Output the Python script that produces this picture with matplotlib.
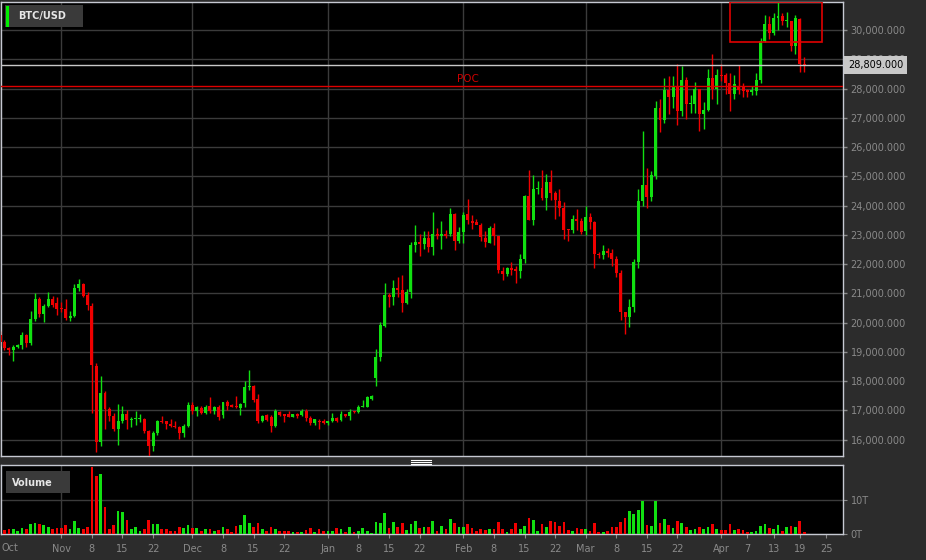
import pandas as pd
import matplotlib
matplotlib.use('Agg')
import matplotlib.pyplot as plt
import matplotlib.dates as mdates
from matplotlib.patches import Rectangle
from matplotlib.lines import Line2D
import matplotlib.transforms as mtransforms

# daily BTC/USD candles, 2022-10-18 .. 2023-04-20
dates = pd.date_range('2022-10-18', '2023-04-20', freq='D')

opens = [19580, 19350, 19120, 19060, 19180, 19230, 19560, 19320, 20110, 20795,
         20280, 20570, 20795, 20660, 20500, 20480, 20145, 20225, 21170, 21310,
         20930, 20580, 18520, 15910, 17590, 17040, 16820, 16360, 16640, 16880,
         16670, 16700, 16700, 16700, 16280, 15765, 16220, 16620, 16620, 16540,
         16470, 16430, 16220, 16450, 17170, 16966, 17080, 16910, 17140, 16966,
         17110, 16830, 17270, 17150, 17160, 17080, 17250, 17790, 17820, 17390,
         16620, 16850, 16790, 16450, 16930, 16840, 16870, 16790, 16870, 16830,
         16970, 16740, 16560, 16640, 16650, 16560, 16640, 16730, 16670, 16850,
         16800, 16960, 16955, 17125, 17125, 17400, 18100, 18840, 19900, 20945,
         20865, 21185, 21115, 20670, 21035, 22670, 22750, 22690, 22900, 22575,
         23030, 22975, 23030, 23030, 23715, 22800, 23100, 23725, 23475, 23440,
         23330, 22905, 22735, 23250, 22950, 21770, 21650, 21850, 21840, 21760,
         22170, 24320, 23520, 24570, 24610, 24270, 24820, 24440, 24160, 23920,
         23180, 23180, 23555, 23475, 23140, 23610, 23440, 22360, 22300, 22440,
         22380, 22170, 21680, 20370, 20175, 20540, 22075, 24150, 24710, 24290,
         25000, 27350, 26920, 27950, 27700, 28100, 27240, 28310, 27470, 27470,
         27970, 27120, 27260, 28350, 28000, 28470, 28460, 28180, 27810, 28100,
         28080, 27950, 27870, 27920, 28310, 29610, 30205, 29900, 30410, 30490,
         30300, 30320, 29470, 30380, 28840]
highs = [19700, 19400, 19180, 19250, 19260, 19690, 19620, 20410, 21000, 20890,
         20620, 21057, 20910, 20870, 20700, 20800, 20380, 21320, 21480, 21360,
         21030, 20660, 18620, 18180, 17650, 17130, 16900, 17220, 17150, 17020,
         16760, 16990, 16880, 16730, 16330, 16280, 16680, 16820, 16650, 16700,
         16620, 16470, 16520, 17270, 17300, 17160, 17150, 17200, 17450, 17160,
         17180, 17300, 17360, 17210, 17480, 17250, 17990, 18370, 17880, 17570,
         16840, 16880, 16830, 17060, 16965, 16870, 16980, 16890, 16900, 17030,
         17030, 16820, 16710, 16700, 16690, 16640, 16900, 16760, 16990, 16880,
         17040, 16980, 17180, 17370, 17490, 17510, 19100, 20010, 21360, 21010,
         21470, 21550, 21630, 21150, 22750, 23350, 23030, 23120, 23130, 23770,
         23220, 23460, 23150, 23920, 23750, 23260, 23780, 24240, 23690, 23550,
         23410, 23130, 23300, 23420, 22960, 21900, 21900, 22080, 21950, 22330,
         24375, 25230, 25030, 24840, 25200, 25090, 25230, 24500, 24580, 24130,
         23210, 23670, 23870, 23560, 23990, 23730, 23470, 22420, 22640, 22560,
         22530, 22280, 21810, 20370, 20790, 22190, 24580, 26540, 25290, 25180,
         27570, 27630, 28350, 28430, 28430, 28830, 28770, 28380, 27790, 28210,
         28000, 27525, 28670, 29170, 28660, 28830, 28520, 28520, 28460, 28790,
         28180, 28000, 28100, 28520, 29725, 30530, 30490, 30580, 30950, 30580,
         30610, 30320, 30530, 30410, 29090]
lows = [19200, 19080, 18890, 18690, 19130, 19090, 19150, 19250, 20060, 20180,
        20030, 20540, 20540, 20260, 20350, 20090, 20060, 20180, 21080, 20890,
        20430, 16925, 15560, 15790, 16360, 16620, 16280, 15820, 16560, 16360,
        16420, 16510, 16600, 16220, 15445, 15620, 16170, 16560, 16370, 16420,
        16400, 16020, 16100, 16420, 16860, 16800, 16880, 16890, 16900, 16890,
        16680, 16750, 17020, 17100, 17080, 16850, 17110, 17710, 17300, 16560,
        16600, 16650, 16270, 16430, 16810, 16590, 16760, 16770, 16730, 16800,
        16620, 16490, 16500, 16370, 16530, 16510, 16600, 16600, 16650, 16760,
        16680, 16910, 16910, 17100, 17110, 17340, 17850, 18700, 19850, 20520,
        20615, 20865, 20350, 20650, 20840, 22430, 22290, 22500, 22400, 22325,
        22850, 22520, 22880, 22970, 22480, 22720, 22720, 23385, 23210, 23360,
        22780, 22590, 22730, 22670, 21680, 21470, 21590, 21620, 21340, 21540,
        22050, 23500, 23350, 24410, 24200, 23860, 24180, 23555, 23630, 22870,
        22790, 23060, 23180, 23030, 22990, 23200, 21870, 22210, 22170, 22240,
        21940, 21560, 20085, 19610, 19860, 20350, 21880, 24000, 23920, 24170,
        24920, 26520, 26830, 27120, 27320, 26750, 27070, 26975, 27150, 27150,
        26540, 26630, 27240, 27660, 27490, 28250, 27830, 27230, 27660, 27830,
        27710, 27700, 27790, 27780, 28180, 29600, 29690, 29840, 29990, 30180,
        30100, 29270, 29190, 28580, 28560]
closes = [19350, 19120, 19060, 19180, 19230, 19580, 19320, 20110, 20795, 20280,
          20570, 20795, 20600, 20450, 20460, 20145, 20225, 21170, 21310, 20920,
          20600, 18550, 15910, 17590, 17040, 16820, 16360, 16640, 16880, 16670,
          16700, 16730, 16740, 16280, 15765, 16220, 16620, 16590, 16540, 16450,
          16430, 16220, 16450, 17190, 16966, 17100, 16910, 17110, 16970, 17110,
          16790, 17270, 17140, 17130, 17110, 17230, 17790, 17845, 17365, 16620,
          16820, 16680, 16450, 16965, 16830, 16820, 16790, 16880, 16800, 16970,
          16740, 16560, 16690, 16610, 16560, 16640, 16730, 16650, 16875, 16820,
          16955, 16940, 17125, 17160, 17445, 17480, 18840, 19930, 20945, 20865,
          21185, 21115, 20670, 21035, 22670, 22750, 22690, 22900, 22575, 23030,
          22975, 23030, 22950, 23715, 22800, 23090, 23690, 23500, 23410, 23330,
          22930, 22760, 23250, 22950, 21790, 21650, 21850, 21790, 21770, 22170,
          24320, 23520, 24570, 24610, 24270, 24820, 24440, 24180, 23920, 23180,
          23160, 23555, 23475, 23100, 23610, 23440, 22360, 22300, 22440, 22380,
          22170, 21680, 20370, 20175, 20540, 22075, 24150, 24710, 24290, 25050,
          27350, 26920, 27950, 27700, 28100, 27240, 28310, 27470, 27500, 27970,
          27120, 27260, 28350, 28000, 28460, 28440, 28180, 27810, 28140, 27960,
          27920, 27870, 27950, 28310, 29610, 30205, 29900, 30410, 30490, 30300,
          30330, 29470, 30410, 28840, 28809]
# volume in T
volume_t = [2.4, 1.25, 1.5, 1.35, 1.0, 1.7, 1.5, 2.9, 3.3, 3.0,
            2.5, 2.1, 1.4, 1.8, 1.8, 2.7, 1.4, 3.9, 1.8, 1.5,
            2.0, 19.4, 17.0, 17.5, 8.0, 1.4, 2.7, 6.8, 6.4, 4.2,
            1.5, 2.1, 0.8, 1.4, 4.1, 3.0, 3.0, 1.4, 1.4, 1.0,
            0.8, 1.9, 1.7, 2.5, 1.7, 1.7, 1.0, 1.6, 1.6, 1.0,
            1.25, 2.0, 1.6, 0.7, 2.3, 2.6, 5.5, 3.2, 2.0, 3.2,
            1.4, 1.0, 1.9, 1.4, 1.0, 1.0, 0.8, 0.6, 0.6, 0.6,
            1.25, 1.7, 0.7, 1.5, 1.0, 0.8, 1.0, 1.8, 1.35, 0.7,
            1.9, 0.6, 1.0, 1.8, 1.0, 0.3, 3.6, 3.2, 6.2, 1.7,
            3.4, 2.1, 3.2, 1.2, 3.0, 3.75, 1.7, 2.0, 2.0, 3.85,
            1.0, 2.2, 1.5, 4.3, 3.3, 2.0, 2.0, 3.0, 1.7, 0.9,
            1.6, 1.25, 1.35, 1.5, 3.5, 1.6, 0.6, 1.4, 3.2, 1.5,
            2.3, 4.6, 4.1, 0.9, 2.9, 2.1, 3.75, 3.5, 2.3, 3.6,
            1.25, 1.0, 1.7, 1.5, 1.4, 0.9, 3.2, 0.7, 0.7, 1.0,
            2.0, 2.0, 3.6, 4.6, 6.7, 5.8, 7.1, 9.5, 2.7, 2.3,
            9.5, 3.2, 4.4, 2.6, 1.8, 3.75, 3.2, 2.0, 1.2, 1.4,
            2.0, 1.6, 2.1, 2.9, 1.5, 1.2, 1.25, 2.8, 1.25, 1.5,
            1.2, 0.6, 0.5, 1.0, 2.3, 2.9, 1.8, 1.4, 2.7, 1.0,
            2.0, 2.2, 2.0, 3.85, 0.6]

last_price = 28809
poc_price = 28100
box_dates = ['2023-04-03', '2023-04-24']
box_prices = [29590, 30950]

tick_dates = ['2022-11-01', '2022-11-08', '2022-11-15', '2022-11-22',
              '2022-12-01', '2022-12-08', '2022-12-15', '2022-12-22',
              '2023-01-01', '2023-01-08', '2023-01-15', '2023-01-22',
              '2023-02-01', '2023-02-08', '2023-02-15', '2023-02-22',
              '2023-03-01', '2023-03-08', '2023-03-15', '2023-03-22',
              '2023-04-01', '2023-04-07', '2023-04-13', '2023-04-19', '2023-04-25']
tick_labels = ['Nov', '8', '15', '22', 'Dec', '8', '15', '22', 'Jan', '8', '15', '22',
               'Feb', '8', '15', '22', 'Mar', '8', '15', '22', 'Apr', '7', '13', '19', '25']
month_starts = ['2022-11-01', '2022-12-01', '2023-01-01', '2023-02-01', '2023-03-01', '2023-04-01']

#==============
BG = '#2c2c2c'
GRID = '#3b3b3b'
BORDER = '#c6c9d2'
LABEL = '#8a8a8a'
UP = '#11e011'
DOWN = '#f00000'

x = mdates.date2num(dates)
colors = [UP if c >= o else DOWN for o, c in zip(opens, closes)]
body_lo = [min(o, c) for o, c in zip(opens, closes)]
body_h = [max(abs(c - o), 40) for o, c in zip(opens, closes)]
xmin = x[0] + 0.2
xmax = xmin + 842 / 4.37

fig = plt.figure(figsize=(9.26, 5.6), dpi=100, facecolor=BG)
ax = fig.add_axes([1 / 926, 1 - 456 / 560, 842 / 926, 454 / 560], facecolor='black')
axv = fig.add_axes([1 / 926, 1 - 534 / 560, 842 / 926, 69 / 560], facecolor='black')

# price panel
ax.vlines(x, lows, highs, colors=colors, lw=1, zorder=3)
ax.bar(x, body_h, bottom=body_lo, width=0.68, color=colors, linewidth=0, zorder=4)
ax.set_xlim(xmin, xmax)
ax.set_ylim(15440, 30960)
ax.set_yticks(range(16000, 30001, 1000))
ax.yaxis.set_major_formatter(matplotlib.ticker.FuncFormatter(lambda v, p: f'{v:,.3f}'))
ax.yaxis.tick_right()
ax.tick_params(axis='y', colors=LABEL, labelcolor=LABEL, length=3, width=1, pad=2.5, labelsize=7)
ax.set_xticks([])
ax.grid(axis='y', color=GRID, lw=1, zorder=0)
for d in month_starts:
    ax.axvline(mdates.datestr2num(d), color=GRID, lw=1, zorder=1)
    axv.axvline(mdates.datestr2num(d), color=GRID, lw=1, zorder=1)

ax.axhline(poc_price, color='#e00000', lw=1, zorder=5)
ax.text(mdates.datestr2num('2023-02-02'), poc_price + 60, 'POC', color='#cc0000',
        fontsize=7.5, ha='center', va='bottom', zorder=6)
ax.axhline(last_price, color='#c8c8c8', lw=1, zorder=5)
trans = mtransforms.blended_transform_factory(ax.transAxes, ax.transData)
ax.text(1.006, last_price, f'{last_price:,.3f}', transform=trans, color='black', fontsize=7,
        ha='left', va='center', clip_on=False, zorder=10,
        bbox=dict(boxstyle='square,pad=0.4', fc='#c8c8c8', ec='none'))

bx0, bx1 = mdates.datestr2num(box_dates[0]), mdates.datestr2num(box_dates[1])
ax.add_patch(Rectangle((bx0, box_prices[0]), bx1 - bx0, box_prices[1] - box_prices[0],
                       fill=False, ec='#e00000', lw=1.2, zorder=6))

# volume panel
axv.bar(x, volume_t, width=0.62, color=colors, linewidth=0, zorder=3)
axv.set_xlim(xmin, xmax)
axv.set_ylim(0, 20.1)
axv.set_yticks([0, 10])
axv.set_yticklabels(['0T', '10T'])
axv.yaxis.tick_right()
axv.tick_params(axis='y', colors=LABEL, labelcolor=LABEL, length=3, pad=2.5, labelsize=7)
axv.grid(axis='y', color=GRID, lw=1, zorder=0)
axv.set_xticks([mdates.datestr2num(d) for d in tick_dates])
axv.set_xticklabels(tick_labels)
axv.tick_params(axis='x', colors=LABEL, labelcolor=LABEL, length=3, pad=4, labelsize=7)
fig.text(2 / 926, 1 - 548 / 560, 'Oct', color=LABEL, fontsize=7, ha='left', va='center')

for a in (ax, axv):
    for s in a.spines.values():
        s.set_color(BORDER)
        s.set_linewidth(1)

# legend-like labels
fig.add_artist(Rectangle((5 / 926, 1 - 27 / 560), 78 / 926, 22 / 560, transform=fig.transFigure,
                         fc='#3a3a3a', ec='none', zorder=20))
fig.add_artist(Rectangle((6 / 926, 1 - 27 / 560), 3 / 926, 21 / 560, transform=fig.transFigure,
                         fc='#00ee00', ec='none', zorder=21))
fig.text(18 / 926, 1 - 16.5 / 560, 'BTC/USD', color='#e6e6e6', fontsize=7, fontweight='bold',
         ha='left', va='center', zorder=22)
fig.add_artist(Rectangle((6 / 926, 1 - 493 / 560), 64 / 926, 22 / 560, transform=fig.transFigure,
                         fc='#3a3a3a', ec='none', zorder=20))
fig.text(12 / 926, 1 - 482.5 / 560, 'Volume', color='#e6e6e6', fontsize=7, fontweight='bold',
         ha='left', va='center', zorder=22)

# splitter handle
for yy in (460, 462, 464):
    fig.add_artist(Line2D([411 / 926, 431 / 926], [1 - yy / 560, 1 - yy / 560],
                          transform=fig.transFigure, color='white', lw=0.8))

fig.savefig('out.png', dpi=100, facecolor=BG)
